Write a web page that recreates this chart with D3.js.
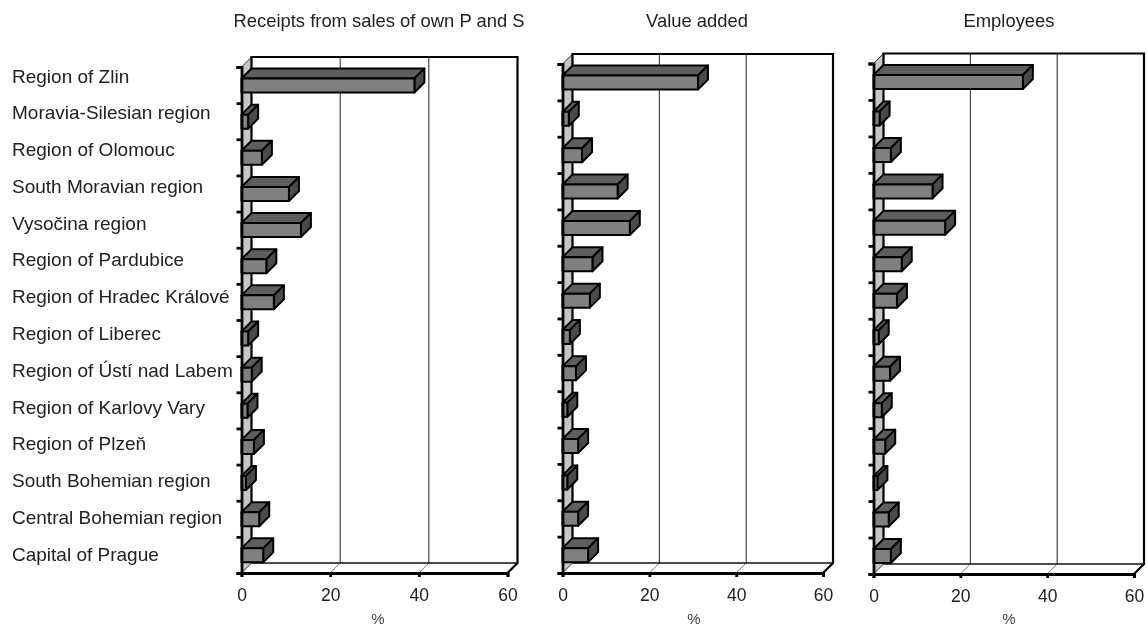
<!DOCTYPE html>
<html><head><meta charset="utf-8">
<script src="https://cdn.jsdelivr.net/npm/d3@7"></script>
<style>
html,body{margin:0;padding:0;background:#fff}
svg{display:block;filter:blur(0.4px)}
text{font-family:"Liberation Sans",Arial,sans-serif;fill:#222}
</style></head><body>
<svg id="c" width="1148" height="628"></svg>
<script>
const categories=["Region of Zlin","Moravia-Silesian region","Region of Olomouc","South Moravian region","Vysočina region","Region of Pardubice","Region of Hradec Králové","Region of Liberec","Region of Ústí nad Labem","Region of Karlovy Vary","Region of Plzeň","South Bohemian region","Central Bohemian region","Capital of Prague"];
const receipts=[39,1.5,4.6,10.7,13.4,5.6,7.3,1.5,2.3,1.35,2.8,1,4,4.9];
const valueAdded=[31.2,1.45,4.5,12.7,15.5,6.9,6.3,1.7,3.1,1.1,3.6,1.1,3.6,5.9];
const employees=[34.4,1.4,4,13.6,16.5,6.5,5.4,1.2,3.8,1.9,2.7,0.9,3.5,4];
const titles=["Receipts from sales of own P and S","Value added","Employees"];
const xTicks=[0,20,40,60];
const axisUnit="%";

const series=[receipts,valueAdded,employees];
const layout=[
 {x0:241.5,x1:507.5,top:67,bottom:573,tx:379,ux:378},
 {x0:562.5,x1:823,top:64,bottom:573,tx:697,ux:694},
 {x0:873.5,x1:1134,top:63.5,bottom:574,tx:1009,ux:1009}
];
const D=10; // depth offset
const svg=d3.select("#c");
const labelY=d3.scalePoint().domain(categories).range([76,554]);
svg.append("g").selectAll("text").data(categories).join("text")
  .attr("x",12).attr("y",d=>labelY(d)).attr("dy","0.35em")
  .attr("font-size",19).text(d=>d);

series.forEach((vals,i)=>{
  const L=layout[i];
  const g=svg.append("g");
  const x=d3.scaleLinear().domain([0,60]).range([L.x0,L.x1]);
  const yTick=d3.scaleLinear().domain([0,categories.length]).range([L.top,L.bottom]);
  const y=d3.scaleBand().domain(categories).range([L.top,L.bottom]).paddingInner(0).paddingOuter(0);
  const xb=x(0)+D, xe=x(60)+D, yt=L.top-D, yb=L.bottom-D;
  g.append("path").attr("d",`M${x(0)},${L.bottom}L${xb},${yb}L${xe},${yb}L${x(60)},${L.bottom}Z`)
    .attr("fill","#fff");
  g.append("path").attr("d",`M${x(0)},${L.top}L${xb},${yt}L${xb},${yb}L${x(0)},${L.bottom}Z`)
    .attr("fill","#c6c6c6").attr("stroke","#333").attr("stroke-width",1);
  xTicks.slice(1,3).forEach(t=>{
    g.append("line").attr("x1",x(t)+D).attr("x2",x(t)+D).attr("y1",yt).attr("y2",yb).attr("stroke","#222").attr("stroke-width",1);
    g.append("line").attr("x1",x(t)).attr("x2",x(t)+D).attr("y1",L.bottom).attr("y2",yb).attr("stroke","#777").attr("stroke-width",1);
  });
  g.append("path").attr("d",`M${xb},${yb}L${xb},${yt}L${xe},${yt}L${xe},${yb}L${x(60)},${L.bottom}`)
    .attr("fill","none").attr("stroke","#000").attr("stroke-width",2.2);
  g.append("line").attr("x1",xb).attr("x2",xe).attr("y1",yb).attr("y2",yb).attr("stroke","#111").attr("stroke-width",1.5);
  categories.forEach((c,k)=>{
    const b=g.append("g");
    const ft=y(c)+11.5, fb=ft+14, r=x(vals[k]), l=x(0);
    const st={stroke:"#000","stroke-width":2,"stroke-linejoin":"round"};
    const add=(d,f)=>{const p=b.append("path").attr("d",d).attr("fill",f);Object.entries(st).forEach(([a,v])=>p.attr(a,v));};
    add(`M${l},${ft}L${l+D},${ft-D}L${r+D},${ft-D}L${r},${ft}Z`,"#5e5e5e");
    add(`M${r},${ft}L${r+D},${ft-D}L${r+D},${fb-D}L${r},${fb}Z`,"#4a4a4a");
    add(`M${l},${ft}L${r},${ft}L${r},${fb}L${l},${fb}Z`,"#808080");
  });
  const ax=g.append("g").attr("transform",`translate(0,${L.bottom})`)
    .call(d3.axisBottom(x).tickValues(xTicks).tickSize(4).tickPadding(12).tickFormat(d3.format("d")));
  ax.select(".domain").attr("stroke","#000").attr("stroke-width",2.8);
  ax.selectAll(".tick line").attr("stroke","#000").attr("stroke-width",2.8);
  ax.selectAll("text").attr("font-size",17.5).attr("font-family",'"Liberation Sans",Arial,sans-serif').attr("fill","#222");
  const ay=g.append("g").attr("transform",`translate(${x(0)},0)`)
    .call(d3.axisLeft(yTick).tickValues(d3.range(0,categories.length+1)).tickSize(5).tickFormat(""));
  ay.select(".domain").attr("stroke","#000").attr("stroke-width",2.8);
  ay.selectAll(".tick line").attr("stroke","#000").attr("stroke-width",2.8);
  svg.append("text").attr("x",L.tx).attr("y",27).attr("text-anchor","middle").attr("font-size",18.4).text(titles[i]);
  svg.append("text").attr("x",L.ux).attr("y",624).attr("text-anchor","middle").attr("font-size",15).style("fill","#444").text(axisUnit);
});
</script>
</body></html>
